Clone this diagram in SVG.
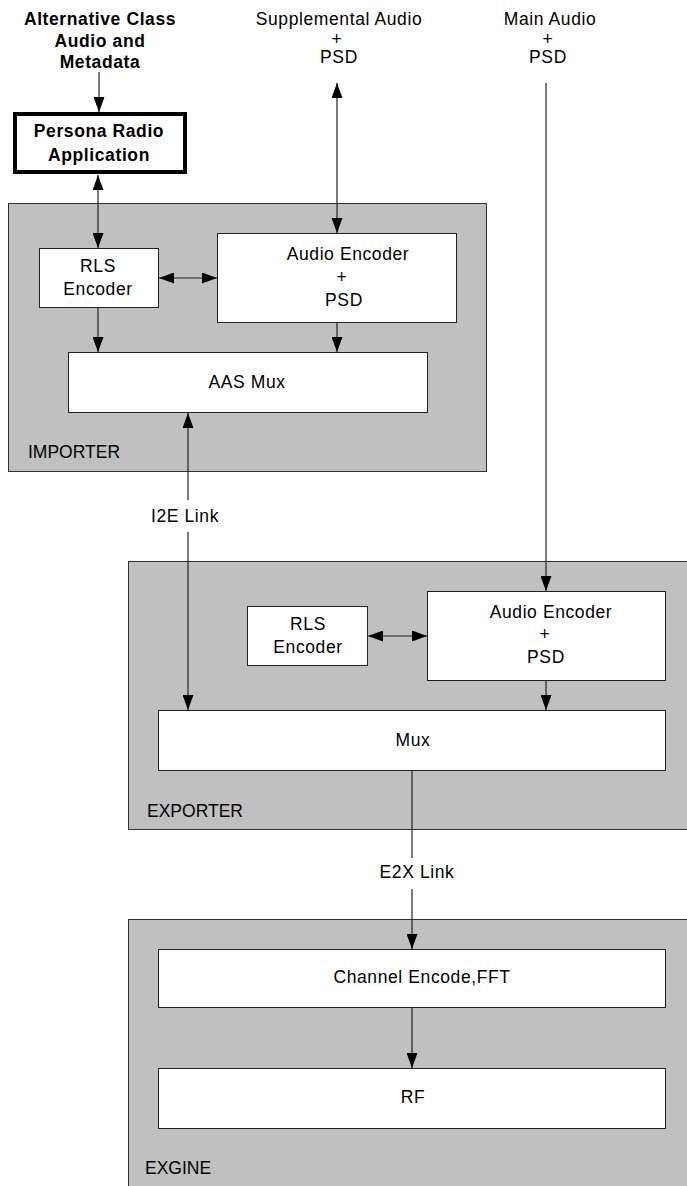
<svg xmlns="http://www.w3.org/2000/svg" width="687" height="1186" viewBox="0 0 687 1186">
<style>
.bg{fill:#fff}
.grp{fill:#c0c0c0;stroke:#333;stroke-width:1}
.box{fill:#fff;stroke:#222;stroke-width:1}
.thick{fill:#fff;stroke:#000;stroke-width:4}
text{font-family:"Liberation Sans",Arial,sans-serif;font-size:17.5px;fill:#000;letter-spacing:0.6px}
.c{text-anchor:middle}
.b{font-weight:bold}
.cap{letter-spacing:0}
.ln{fill:none;stroke:#222;stroke-width:1.2}
</style>
<defs>
<marker id="ah" viewBox="0 0 15 11" refX="15" refY="5.5" markerWidth="15" markerHeight="11" markerUnits="userSpaceOnUse" orient="auto-start-reverse"><path d="M0,0 L15,5.5 L0,11 z" fill="#000"/></marker>
</defs>
<rect class="bg" x="0" y="0" width="687" height="1186"/>

<g id="importer"><rect class="grp" x="8.5" y="203.5" width="478" height="268"/><text class="cap" x="28" y="458">IMPORTER</text></g>
<g id="exporter"><rect class="grp" x="128.5" y="561.5" width="600" height="268"/><text class="cap" x="147" y="817">EXPORTER</text></g>
<g id="exgine"><rect class="grp" x="128.5" y="919.5" width="600" height="300"/><text class="cap" x="145" y="1174">EXGINE</text></g>

<g id="alt-source"><text class="c b" x="100" y="25">Alternative Class</text><text class="c b" x="100" y="47">Audio and</text><text class="c b" x="100" y="68">Metadata</text></g>
<g id="supp-source"><text class="c" x="339" y="25">Supplemental Audio</text><text class="c" x="337" y="45">+</text><text class="c" x="339" y="63">PSD</text></g>
<g id="main-source"><text class="c" x="550" y="25">Main Audio</text><text class="c" x="548" y="45">+</text><text class="c" x="548" y="63">PSD</text></g>

<g id="persona"><rect class="thick" x="15" y="114" width="170" height="58"/><text class="c b" x="99" y="137">Persona Radio</text><text class="c b" x="99" y="161">Application</text></g>

<g id="rls-imp"><rect class="box" x="39.5" y="248.5" width="119" height="59"/><text class="c" x="98" y="272">RLS</text><text class="c" x="98" y="295">Encoder</text></g>
<g id="audio-imp"><rect class="box" x="217.5" y="233.5" width="239" height="89"/><text class="c" x="348" y="260">Audio Encoder</text><text class="c" x="342" y="283">+</text><text class="c" x="344" y="306">PSD</text></g>
<g id="aas-mux"><rect class="box" x="68.5" y="352.5" width="359" height="60"/><text class="c" x="247" y="388">AAS Mux</text></g>

<g id="rls-exp"><rect class="box" x="247.5" y="606.5" width="120" height="59"/><text class="c" x="308" y="630">RLS</text><text class="c" x="308" y="653">Encoder</text></g>
<g id="audio-exp"><rect class="box" x="427.5" y="591.5" width="238" height="89"/><text class="c" x="551" y="618">Audio Encoder</text><text class="c" x="545" y="640">+</text><text class="c" x="546" y="663">PSD</text></g>
<g id="mux"><rect class="box" x="158.5" y="710.5" width="507" height="60"/><text class="c" x="413" y="746">Mux</text></g>

<g id="chan-enc"><rect class="box" x="158.5" y="949.5" width="507" height="58"/><text class="c" x="422" y="983">Channel Encode,FFT</text></g>
<g id="rf"><rect class="box" x="158.5" y="1068.5" width="507" height="60"/><text class="c" x="413" y="1103">RF</text></g>

<g id="connectors">
<line class="ln" x1="99" y1="72" x2="99" y2="112" marker-end="url(#ah)"/>
<line class="ln" x1="98" y1="175" x2="98" y2="248" marker-start="url(#ah)" marker-end="url(#ah)"/>
<line class="ln" x1="337" y1="83" x2="337" y2="233" marker-start="url(#ah)" marker-end="url(#ah)"/>
<line class="ln" x1="546" y1="83" x2="546" y2="591" marker-end="url(#ah)"/>
<line class="ln" x1="159" y1="278" x2="217" y2="278" marker-start="url(#ah)" marker-end="url(#ah)"/>
<line class="ln" x1="98" y1="308" x2="98" y2="352" marker-end="url(#ah)"/>
<line class="ln" x1="337" y1="323" x2="337" y2="352" marker-end="url(#ah)"/>
<line class="ln" x1="188" y1="413" x2="188" y2="500" marker-start="url(#ah)"/>
<line class="ln" x1="188" y1="532" x2="188" y2="710" marker-end="url(#ah)"/>
<text x="185" y="522" class="c">I2E Link</text>
<line class="ln" x1="368" y1="636" x2="427" y2="636" marker-start="url(#ah)" marker-end="url(#ah)"/>
<line class="ln" x1="546" y1="681" x2="546" y2="710" marker-end="url(#ah)"/>
<line class="ln" x1="412" y1="771" x2="412" y2="858"/>
<line class="ln" x1="412" y1="889" x2="412" y2="949" marker-end="url(#ah)"/>
<text x="417" y="878" class="c">E2X Link</text>
<line class="ln" x1="412" y1="1008" x2="412" y2="1068" marker-end="url(#ah)"/>
</g>
</svg>
